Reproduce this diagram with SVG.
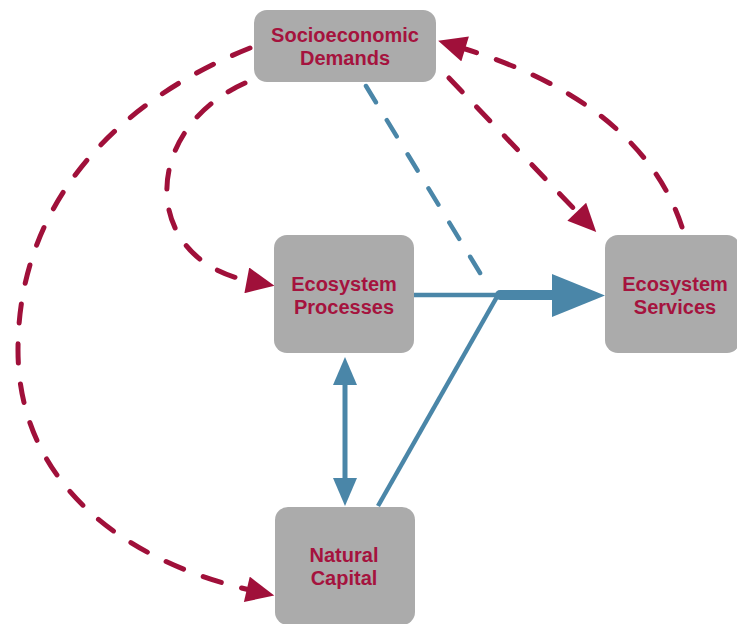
<svg xmlns="http://www.w3.org/2000/svg" width="737" height="624" viewBox="0 0 737 624">
<style>
.box{fill:#ababab;}
.lbl{font-family:"Liberation Sans",Arial,sans-serif;font-weight:bold;font-size:20px;fill:#a5133e;text-anchor:middle;}
.red{fill:none;stroke:#a0103a;stroke-width:5;stroke-dasharray:19 21;stroke-linecap:round;}
.blue{fill:none;stroke:#4a86a8;stroke-width:4.5;}
.bluedash{fill:none;stroke:#4a86a8;stroke-width:4.5;stroke-dasharray:19 21;stroke-linecap:round;}
</style>
<defs>
<marker id="ra" markerUnits="userSpaceOnUse" markerWidth="30" markerHeight="26" viewBox="0 0 26 24" refX="3" refY="12" orient="auto">
<path d="M0,0 L26,12 L0,24 z" fill="#a0103a"/>
</marker>
<marker id="ba" markerUnits="userSpaceOnUse" markerWidth="28" markerHeight="26" viewBox="0 0 26 22" refX="2" refY="11" orient="auto">
<path d="M0,0 L26,11 L0,22 z" fill="#4a86a8"/>
</marker>
</defs>
<rect width="737" height="624" fill="#ffffff"/>
<g id="connectors">
<path class="red" d="M250,48 C120,100 18,200 18,350 C18,480 120,560 250,590" marker-end="url(#ra)"/>
<path class="red" d="M245,83 C140,130 140,260 250,281" marker-end="url(#ra)"/>
<path class="red" d="M449,78 L579,214" marker-end="url(#ra)"/>
<path class="red" d="M682,227 C660,160 600,90 462,48" marker-end="url(#ra)"/>
<path class="bluedash" d="M366,86 L488,286"/>
<path class="blue" d="M414,295 L498,295"/>
<path class="blue" d="M378,506 L498,295"/>
<path d="M500,295 L553,295" stroke="#4a86a8" stroke-width="10" stroke-linecap="round"/>
<path d="M552,274 L605,295.5 L552,317 z" fill="#4a86a8"/>
<path d="M345,382 L345,480" stroke="#4a86a8" stroke-width="5"/>
<path d="M345,357 L357,385 L333,385 z" fill="#4a86a8"/>
<path d="M345,506 L357,478 L333,478 z" fill="#4a86a8"/>
</g>
<g id="socioeconomic">
<rect class="box" x="254" y="10" width="182" height="72" rx="13"/>
<text class="lbl" x="345" y="42">Socioeconomic</text>
<text class="lbl" x="345" y="65">Demands</text>
</g>
<g id="processes">
<rect class="box" x="274" y="235" width="140" height="118" rx="13"/>
<text class="lbl" x="344" y="291">Ecosystem</text>
<text class="lbl" x="344" y="314">Processes</text>
</g>
<g id="services">
<rect class="box" x="605" y="235" width="135" height="118" rx="13"/>
<text class="lbl" x="675" y="291">Ecosystem</text>
<text class="lbl" x="675" y="314">Services</text>
</g>
<g id="natural">
<rect class="box" x="275" y="507" width="140" height="118" rx="13"/>
<text class="lbl" x="344" y="562">Natural</text>
<text class="lbl" x="344" y="585">Capital</text>
</g>
</svg>
